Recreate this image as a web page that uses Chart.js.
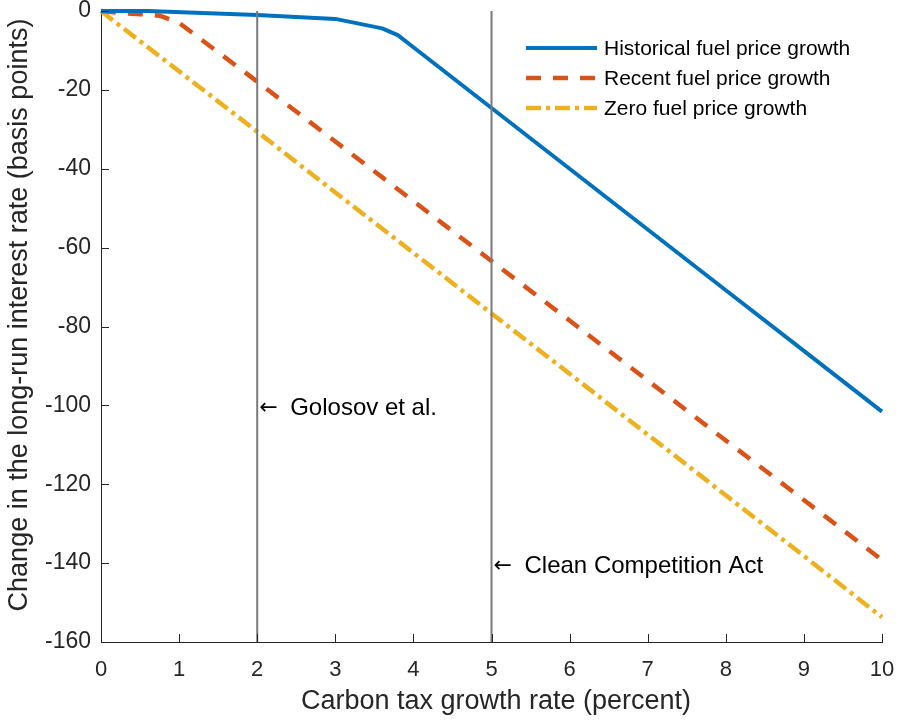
<!DOCTYPE html>
<html>
<head>
<meta charset="utf-8">
<script src="https://cdn.jsdelivr.net/npm/chart.js@4.4.1/dist/chart.umd.min.js"></script>
<style>
  html, body { margin: 0; padding: 0; background: #ffffff; }
  #wrap { width: 898px; height: 721px; position: relative; }
</style>
</head>
<body>
<div id="wrap"><canvas id="c" width="898" height="721"></canvas></div>
<script>
// ---- data ----
const historicalX = [0, 0.6, 2, 3, 3.6, 3.8, 4, 5, 6, 7, 8, 9, 10];
const historicalY = [0, 0, -1.0, -2.0, -4.4, -6.1, -9.2, -24.6, -40.0, -55.4, -70.8, -86.2, -101.6];

const recentX = [0, 0.25, 0.5, 0.75, 1, 2, 3, 4, 5, 6, 7, 8, 9, 10];
const recentY = [0, -0.5, -0.8, -1.2, -3.0, -17.9, -33.1, -48.2, -63.4, -78.5, -93.7, -108.9, -124.0, -139.2];

const zeroX = [0, 1, 2, 3, 4, 5, 6, 7, 8, 9, 10];
const zeroY = [0, -15.3, -30.6, -46.0, -61.3, -76.7, -92.0, -107.4, -122.8, -138.2, -153.7];

const seriesNames = ['Historical fuel price growth', 'Recent fuel price growth', 'Zero fuel price growth'];
const referenceRates = [2, 5];
const referenceLabels = ['Golosov et al.', 'Clean Competition Act'];
const referenceLabelY = [-100.7, -140.8];

const xTicks = [0, 1, 2, 3, 4, 5, 6, 7, 8, 9, 10];
const yTicks = [0, -20, -40, -60, -80, -100, -120, -140, -160];
const xTitle = 'Carbon tax growth rate (percent)';
const yTitle = 'Change in the long-run interest rate (basis points)';

// ---- build datasets ----
const toPts = (xs, ys) => xs.map((x, i) => ({ x: x, y: ys[i] }));
const COLORS = ['#0072BD', '#D95319', '#EDB120'];
const DASHES = [[], [15, 12], [15, 5, 4, 5]];
const WIDTHS = [4, 4.5, 4.5];

const seriesDatasets = [
  toPts(historicalX, historicalY),
  toPts(recentX, recentY),
  toPts(zeroX, zeroY)
].map((pts, i) => ({
  label: seriesNames[i],
  data: pts,
  borderColor: COLORS[i],
  backgroundColor: COLORS[i],
  borderWidth: WIDTHS[i],
  borderDash: DASHES[i],
  borderCapStyle: 'butt',
  borderJoinStyle: 'round',
  pointRadius: 0,
  tension: 0,
  fill: false,
  clip: 6,
  order: i + 1
}));

const refDatasets = referenceRates.map((r) => ({
  label: 'ref' + r,
  data: [{ x: r, y: 0 }, { x: r, y: -160 }],
  borderColor: '#7a7a7a',
  borderWidth: 2,
  pointRadius: 0,
  fill: false,
  clip: 6,
  order: 0
}));

const AX = '#262626';
const FONT = '"Liberation Sans", Arial, Helvetica, sans-serif';

const decorPlugin = {
  id: 'decor',
  afterDraw(chart) {
    const ctx = chart.ctx;
    const xs = chart.scales.x, ys = chart.scales.y;
    const ca = chart.chartArea;
    ctx.save();
    // inward tick marks
    ctx.strokeStyle = AX;
    ctx.lineWidth = 1;
    ctx.beginPath();
    xTicks.forEach(v => {
      const px = Math.round(xs.getPixelForValue(v)) + 0.5;
      ctx.moveTo(px, ca.bottom);
      ctx.lineTo(px, ca.bottom - 8);
    });
    yTicks.forEach(v => {
      const py = Math.round(ys.getPixelForValue(v)) + 0.5;
      ctx.moveTo(ca.left, py);
      ctx.lineTo(ca.left + 8, py);
    });
    ctx.stroke();

    // reference annotations
    ctx.fillStyle = '#000000';
    ctx.textBaseline = 'middle';
    ctx.textAlign = 'left';
    referenceRates.forEach((r, i) => {
      const px = xs.getPixelForValue(r);
      const py = ys.getPixelForValue(referenceLabelY[i]);
      ctx.font = '22px "DejaVu Sans", sans-serif';
      ctx.fillText('\u2190', px + 2, py);
      ctx.font = '24px ' + FONT;
      ctx.fillText(referenceLabels[i], px + 33, py);
    });

    // legend
    const lx0 = 526, lx1 = 597, tx = 604;
    const rowY = [48, 78, 108];
    seriesDatasets.forEach((ds, i) => {
      ctx.beginPath();
      ctx.strokeStyle = ds.borderColor;
      ctx.lineWidth = ds.borderWidth;
      ctx.lineCap = 'butt';
      ctx.setLineDash(ds.borderDash);
      ctx.moveTo(lx0, rowY[i]);
      ctx.lineTo(lx1, rowY[i]);
      ctx.stroke();
      ctx.setLineDash([]);
      ctx.fillStyle = '#000000';
      ctx.font = '21px ' + FONT;
      ctx.textBaseline = 'middle';
      ctx.fillText(ds.label, tx, rowY[i] + 1);
    });

    // axis titles
    ctx.fillStyle = AX;
    ctx.font = '27px ' + FONT;
    ctx.textAlign = 'center';
    ctx.textBaseline = 'middle';
    ctx.fillText(xTitle, 496, 702);
    ctx.translate(20, 315);
    ctx.rotate(-Math.PI / 2);
    ctx.fillText(yTitle, 0, 0);
    ctx.restore();
  }
};

new Chart(document.getElementById('c'), {
  type: 'line',
  data: { datasets: refDatasets.concat(seriesDatasets) },
  options: {
    responsive: false,
    animation: false,
    devicePixelRatio: 1,
    parsing: true,
    layout: { padding: { left: 0, right: 16, top: 11, bottom: 0 } },
    plugins: { legend: { display: false }, tooltip: { enabled: false } },
    scales: {
      x: {
        type: 'linear',
        min: 0, max: 10,
        afterBuildTicks: (s) => { s.ticks = xTicks.map(v => ({ value: v })); },
        afterFit: (s) => { s.height = 79; s.paddingLeft = 0; s.paddingRight = 0; },
        grid: { drawOnChartArea: false, drawTicks: false },
        border: { display: true, color: AX, width: 1 },
        ticks: {
          color: AX, padding: 17, maxRotation: 0, autoSkip: false,
          font: { family: FONT, size: 22, lineHeight: 1 }
        }
      },
      y: {
        type: 'linear',
        min: -160, max: 0,
        afterBuildTicks: (s) => { s.ticks = yTicks.map(v => ({ value: v })); },
        afterFit: (s) => { s.width = 101; s.paddingTop = 0; s.paddingBottom = 0; },
        grid: { drawOnChartArea: false, drawTicks: false },
        border: { display: true, color: AX, width: 1 },
        ticks: {
          color: AX, padding: 10, autoSkip: false,
          font: { family: FONT, size: 23, lineHeight: 1 }
        }
      }
    }
  },
  plugins: [decorPlugin]
});
</script>
</body>
</html>
